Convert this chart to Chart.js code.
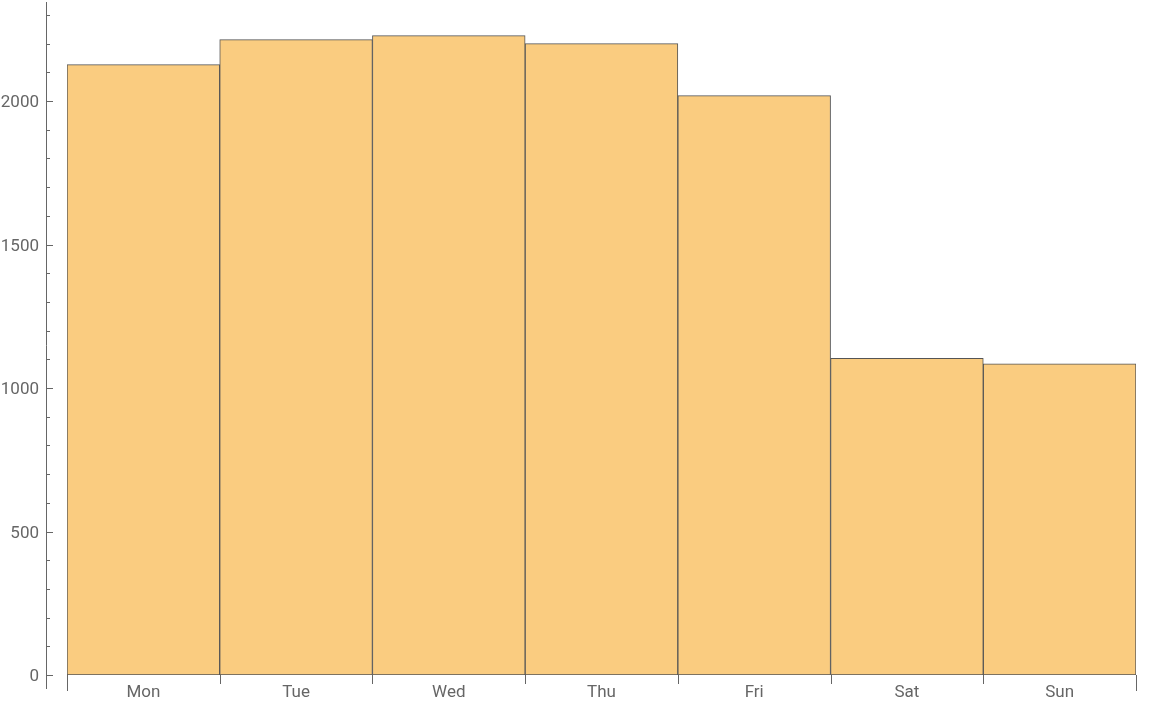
<!DOCTYPE html>
<html>
<head>
<meta charset="utf-8">
<script src="https://cdn.jsdelivr.net/npm/chart.js@4"></script>
<style>
  html, body { margin: 0; padding: 0; background: #fff; }
  #wrap { width: 1161px; height: 703px; }
</style>
</head>
<body>
<div id="wrap"><canvas id="dayChart"></canvas></div>
<script>
// ---- data ----
const days = ["Mon", "Tue", "Wed", "Thu", "Fri", "Sat", "Sun"];
const counts = [2127, 2214, 2228, 2200, 2019, 1103, 1084];
const yLabelStep = 500;   // labelled ticks
const yMinorStep = 100;   // small ticks
const yMax = 2345;

const axisColor = "#666666";
const labelFont = "17px Roboto";

// Mathematica-like axes: y axis a little left of the bars, ticks pointing inward,
// x ticks on the bar boundaries and day names under the bar centres
const mathAxes = {
  id: "mathAxes",
  afterDraw(chart) {
    const { ctx, chartArea, scales } = chart;
    const y = scales.y, x = scales.x;
    const axisX = 46;
    const zeroY = Math.round(y.getPixelForValue(0));

    ctx.save();
    ctx.strokeStyle = axisColor;
    ctx.fillStyle = axisColor;
    ctx.lineWidth = 1;
    ctx.font = labelFont;

    // y axis line
    ctx.beginPath();
    ctx.moveTo(axisX + 0.5, chartArea.top);
    ctx.lineTo(axisX + 0.5, zeroY + 14);
    ctx.stroke();

    // y ticks
    for (let v = 0; v <= yMax; v += yMinorStep) {
      const py = Math.round(y.getPixelForValue(v)) + 0.5;
      const len = v % yLabelStep === 0 ? 7 : 4;
      ctx.beginPath();
      ctx.moveTo(axisX, py);
      ctx.lineTo(axisX + len, py);
      ctx.stroke();
    }

    // y labels
    ctx.textAlign = "right";
    ctx.textBaseline = "alphabetic";
    for (let v = 0; v <= yMax; v += yLabelStep) {
      ctx.fillText(String(v), 39, y.getPixelForValue(v) + 6);
    }

    // x ticks on bar boundaries, outer ones longer
    const half = (x.getPixelForValue(1) - x.getPixelForValue(0)) / 2;
    for (let i = 0; i <= days.length; i++) {
      const px = Math.round(x.getPixelForValue(i) - half) + 0.5;
      const len = (i === 0 || i === days.length) ? 16 : 9;
      ctx.beginPath();
      ctx.moveTo(px, zeroY);
      ctx.lineTo(px, zeroY + len);
      ctx.stroke();
    }

    // x labels
    ctx.textAlign = "center";
    days.forEach((d, i) => {
      ctx.fillText(d, x.getPixelForValue(i), zeroY + 22);
    });
    ctx.restore();
  }
};

new Chart(document.getElementById("dayChart"), {
  type: "bar",
  data: {
    labels: days,
    datasets: [{
      data: counts,
      backgroundColor: "#FACC80",
      borderColor: "#555555",
      borderWidth: 1,
      borderSkipped: false,
      barPercentage: 1,
      categoryPercentage: 1
    }]
  },
  options: {
    responsive: true,
    maintainAspectRatio: false,
    animation: false,
    layout: { padding: { top: 2, right: 25, bottom: 28, left: 67 } },
    plugins: {
      legend: { display: false },
      tooltip: { enabled: false }
    },
    scales: {
      x: { display: false, offset: true },
      y: { display: false, min: 0, max: yMax }
    }
  },
  plugins: [mathAxes]
});
</script>
</body>
</html>
